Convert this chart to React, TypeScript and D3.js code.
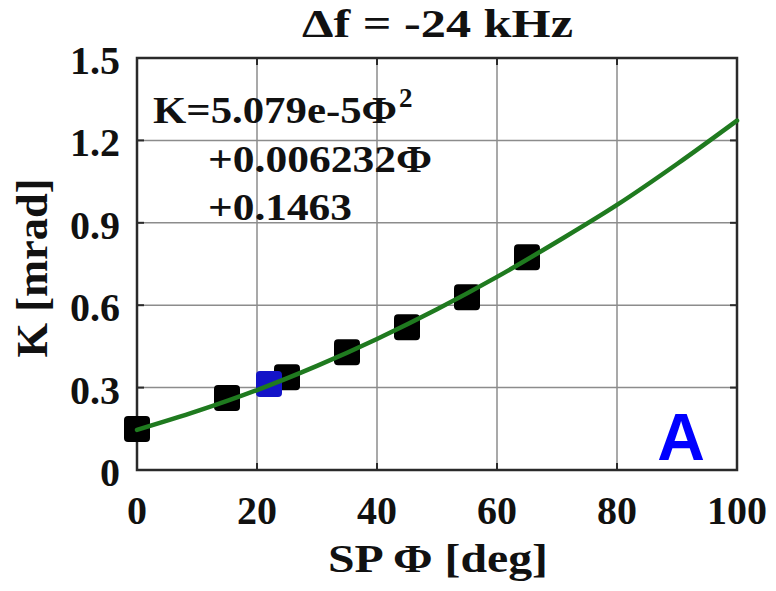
import React from "react";
import * as d3 from "d3";

const measPhi = [0, 15, 25, 35, 45, 55, 65];
const measK = [0.149, 0.262, 0.338, 0.429, 0.52, 0.629, 0.775];
const highlightPhi = [22];
const highlightK = [0.313];
const fitPhi = [0, 10, 20, 30, 40, 50, 60, 70, 80, 90, 100];
const fitK = [0.146, 0.214, 0.291, 0.379, 0.477, 0.585, 0.703, 0.831, 0.965, 1.114, 1.272];
const xTicks = [0, 20, 40, 60, 80, 100];
const yTicks = [0, 0.3, 0.6, 0.9, 1.2, 1.5];
const yTickLabels = ["0", "0.3", "0.6", "0.9", "1.2", "1.5"];
const titleText = "\u0394f = -24 kHz";
const xLabel = "SP \u03A6 [deg]";
const yLabel = "K [mrad]";
const eqLines = ["K=5.079e-5\u03A6", "+0.006232\u03A6", "+0.1463"];
const panelLetter = "A";

const W = 776, H = 591;
const L = 137, R = 737, T = 58, B = 470;
const serif = "'Liberation Serif', 'Times New Roman', serif";

export default function App() {
  const x = d3.scaleLinear().domain([0, 100]).range([L, R]);
  const y = d3.scaleLinear().domain([0, 1.5]).range([B, T]);
  const line = d3
    .line<number>()
    .x((_, i) => x(fitPhi[i]))
    .y((d) => y(d))
    .curve(d3.curveMonotoneX);
  const ms = 26;
  return (
    <svg width={W} height={H} style={{ position: "absolute", left: 0, top: 0, background: "#fff" }}>
      <rect x={0} y={0} width={W} height={H} fill="#fff" />
      {/* grid */}
      {xTicks.slice(1, -1).map((t) => (
        <line key={"gx" + t} x1={x(t)} x2={x(t)} y1={T} y2={B} stroke="#8c8c8c" strokeWidth={1.5} />
      ))}
      {yTicks.slice(1, -1).map((t) => (
        <line key={"gy" + t} x1={L} x2={R} y1={y(t)} y2={y(t)} stroke="#8c8c8c" strokeWidth={1.5} />
      ))}
      {/* box */}
      <rect x={L} y={T} width={R - L} height={B - T} fill="none" stroke="#2a2a2a" strokeWidth={2.5} />
      {/* tick marks */}
      {xTicks.map((t) => (
        <g key={"tx" + t}>
          <line x1={x(t)} x2={x(t)} y1={B} y2={B - 7} stroke="#2a2a2a" strokeWidth={2} />
          <line x1={x(t)} x2={x(t)} y1={T} y2={T + 7} stroke="#2a2a2a" strokeWidth={2} />
        </g>
      ))}
      {yTicks.map((t) => (
        <g key={"ty" + t}>
          <line x1={L} x2={L + 7} y1={y(t)} y2={y(t)} stroke="#2a2a2a" strokeWidth={2} />
          <line x1={R} x2={R - 7} y1={y(t)} y2={y(t)} stroke="#2a2a2a" strokeWidth={2} />
        </g>
      ))}
      {/* tick labels */}
      {xTicks.map((t) => (
        <text key={"lx" + t} x={x(t)} y={524} textAnchor="middle" fontFamily={serif} fontWeight="bold" fontSize={40} fill="#111">
          {t}
        </text>
      ))}
      {yTicks.map((t, i) => (
        <text key={"ly" + t} x={120} y={y(t) + 16} textAnchor="end" fontFamily={serif} fontWeight="bold" fontSize={40} fill="#111">
          {yTickLabels[i]}
        </text>
      ))}
      {/* markers */}
      {measPhi.map((p, i) => (
        <rect key={"m" + i} x={x(p) - ms / 2} y={y(measK[i]) - ms / 2} width={ms} height={ms} rx={4} fill="#000" />
      ))}
      {highlightPhi.map((p, i) => (
        <rect key={"h" + i} x={x(p) - ms / 2} y={y(highlightK[i]) - ms / 2} width={ms} height={ms} rx={4} fill="#1414c8" />
      ))}
      {/* fit curve */}
      <path d={line(fitK) || ""} fill="none" stroke="#1f7a1f" strokeWidth={4.5} strokeLinecap="round" />
      {/* equation */}
      <text x={153} y={123} fontFamily={serif} fontWeight="bold" fontSize={38} fill="#111" textLength={244} lengthAdjust="spacingAndGlyphs">
        {eqLines[0]}
      </text>
      <text x={399} y={107} fontFamily={serif} fontWeight="bold" fontSize={27} fill="#111">2</text>
      <text x={208} y={172} fontFamily={serif} fontWeight="bold" fontSize={38} fill="#111" textLength={224} lengthAdjust="spacingAndGlyphs">
        {eqLines[1]}
      </text>
      <text x={208} y={220} fontFamily={serif} fontWeight="bold" fontSize={38} fill="#111" textLength={144} lengthAdjust="spacingAndGlyphs">
        {eqLines[2]}
      </text>
      {/* title */}
      <text x={302} y={37} fontFamily={serif} fontWeight="bold" fontSize={40} fill="#111" textLength={271} lengthAdjust="spacingAndGlyphs">
        {titleText}
      </text>
      {/* x label */}
      <text x={328} y={572} fontFamily={serif} fontWeight="bold" fontSize={41} fill="#111" textLength={220} lengthAdjust="spacingAndGlyphs">
        {xLabel}
      </text>
      {/* y label */}
      <text transform={`translate(47, ${268 + 179 / 2}) rotate(-90)`} x={0} y={0} fontFamily={serif} fontWeight="bold" fontSize={44} fill="#111" textLength={179} lengthAdjust="spacingAndGlyphs">
        {yLabel}
      </text>
      {/* panel letter */}
      <text x={681} y={460} textAnchor="middle" fontFamily="'Liberation Sans', Arial, sans-serif" fontWeight="bold" fontSize={66} fill="#0000ff">
        {panelLetter}
      </text>
    </svg>
  );
}
